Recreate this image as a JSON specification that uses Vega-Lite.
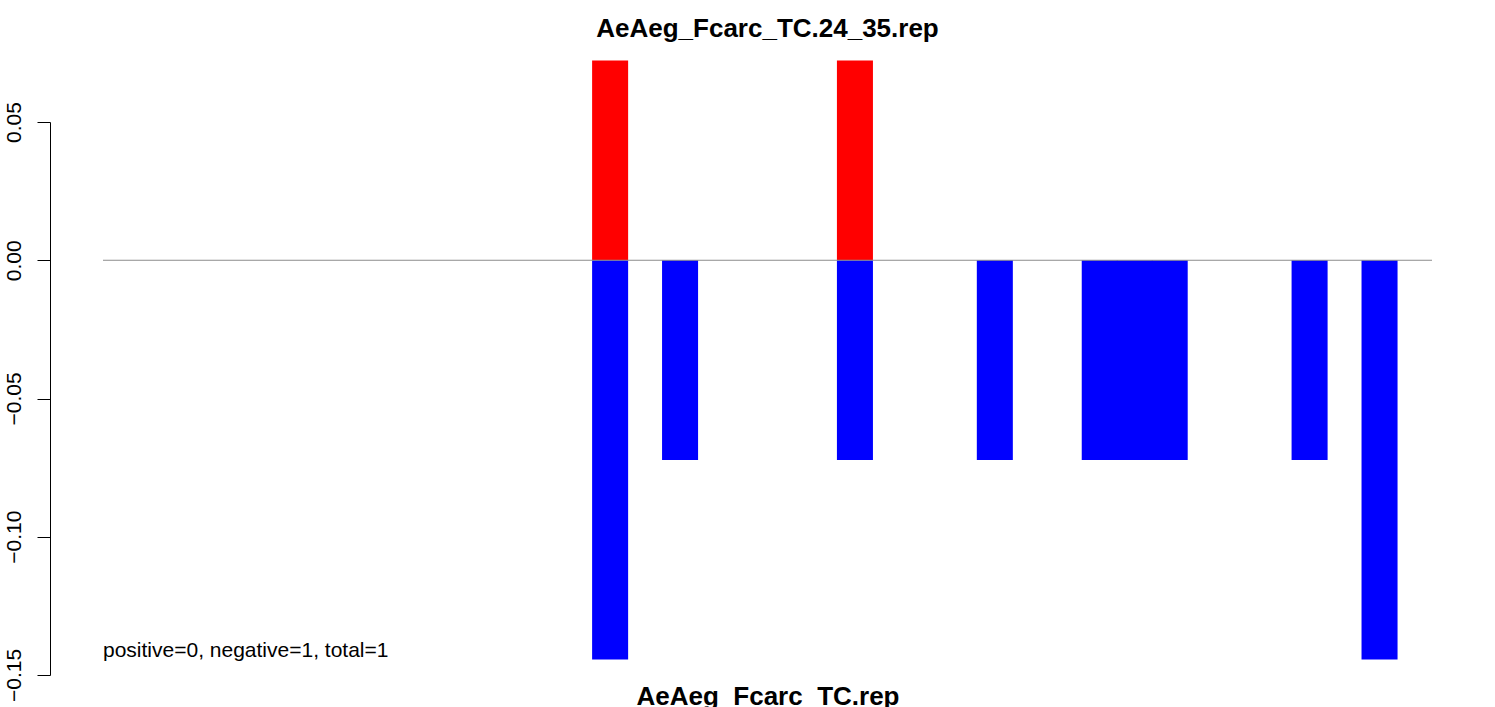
{
  "$schema": "https://vega.github.io/schema/vega-lite/v6.json",
  "width": 1329,
  "height": 553,
  "autosize": {"type": "none"},
  "padding": {"left": 103, "top": 122, "right": 63, "bottom": 32},
  "background": "white",
  "title": {
    "text": "AeAeg_Fcarc_TC.24_35.rep",
    "font": "Liberation Sans",
    "fontSize": 26,
    "fontWeight": "bold",
    "color": "black",
    "anchor": "middle",
    "baseline": "alphabetic",
    "offset": -2
  },
  "config": {"view": {"stroke": null}},
  "datasets": {
    "bars": [
      {"slot": 14, "value": 0.0722, "dir": "pos"},
      {"slot": 21, "value": 0.0722, "dir": "pos"},
      {"slot": 14, "value": -0.1444, "dir": "neg"},
      {"slot": 16, "value": -0.0722, "dir": "neg"},
      {"slot": 21, "value": -0.0722, "dir": "neg"},
      {"slot": 25, "value": -0.0722, "dir": "neg"},
      {"slot": 28, "value": -0.0722, "dir": "neg"},
      {"slot": 29, "value": -0.0722, "dir": "neg"},
      {"slot": 30, "value": -0.0722, "dir": "neg"},
      {"slot": 34, "value": -0.0722, "dir": "neg"},
      {"slot": 36, "value": -0.1444, "dir": "neg"}
    ],
    "note": [
      {"slot": 0, "value": -0.1415, "label": "positive=0, negative=1, total=1"}
    ],
    "zero": [
      {"value": 0}
    ]
  },
  "layer": [
    {
      "data": {"name": "bars"},
      "mark": {"type": "bar", "clip": false, "width": {"band": 1.03}},
      "encoding": {
        "x": {
          "field": "slot",
          "type": "ordinal",
          "scale": {
            "domain": [0,1,2,3,4,5,6,7,8,9,10,11,12,13,14,15,16,17,18,19,20,21,22,23,24,25,26,27,28,29,30,31,32,33,34,35,36,37],
            "paddingInner": 0,
            "paddingOuter": 0
          },
          "axis": {
            "labels": false,
            "ticks": false,
            "domain": false,
            "title": "AeAeg_Fcarc_TC.rep",
            "titleFont": "Liberation Sans",
            "titleFontSize": 26,
            "titleFontWeight": "bold",
            "titleColor": "black",
            "titleBaseline": "alphabetic",
            "titlePadding": 29
          }
        },
        "y": {
          "field": "value",
          "type": "quantitative",
          "stack": null,
          "scale": {"domain": [-0.15, 0.05], "nice": false, "zero": false},
          "axis": {
            "values": [-0.15, -0.1, -0.05, 0, 0.05],
            "format": ".2f",
            "title": null,
            "grid": false,
            "offset": 53,
            "tickSize": 13,
            "tickColor": "black",
            "domainColor": "black",
            "labelAngle": 270,
            "labelAlign": "center",
            "labelBaseline": "alphabetic",
            "labelPadding": 17,
            "labelFont": "Liberation Sans",
            "labelFontSize": 21,
            "labelColor": "black"
          }
        },
        "color": {
          "field": "dir",
          "type": "nominal",
          "scale": {"domain": ["pos", "neg"], "range": ["#ff0000", "#0000ff"]},
          "legend": null
        }
      }
    },
    {
      "data": {"name": "zero"},
      "mark": {"type": "rule", "color": "#8c8c8c", "strokeWidth": 1},
      "encoding": {"y": {"field": "value", "type": "quantitative"}}
    },
    {
      "data": {"name": "note"},
      "mark": {"type": "text", "align": "left", "baseline": "middle", "font": "Liberation Sans", "fontSize": 21, "color": "black"},
      "encoding": {
        "x": {"field": "slot", "type": "ordinal", "bandPosition": 0},
        "y": {"field": "value", "type": "quantitative"},
        "text": {"field": "label"}
      }
    }
  ]
}
